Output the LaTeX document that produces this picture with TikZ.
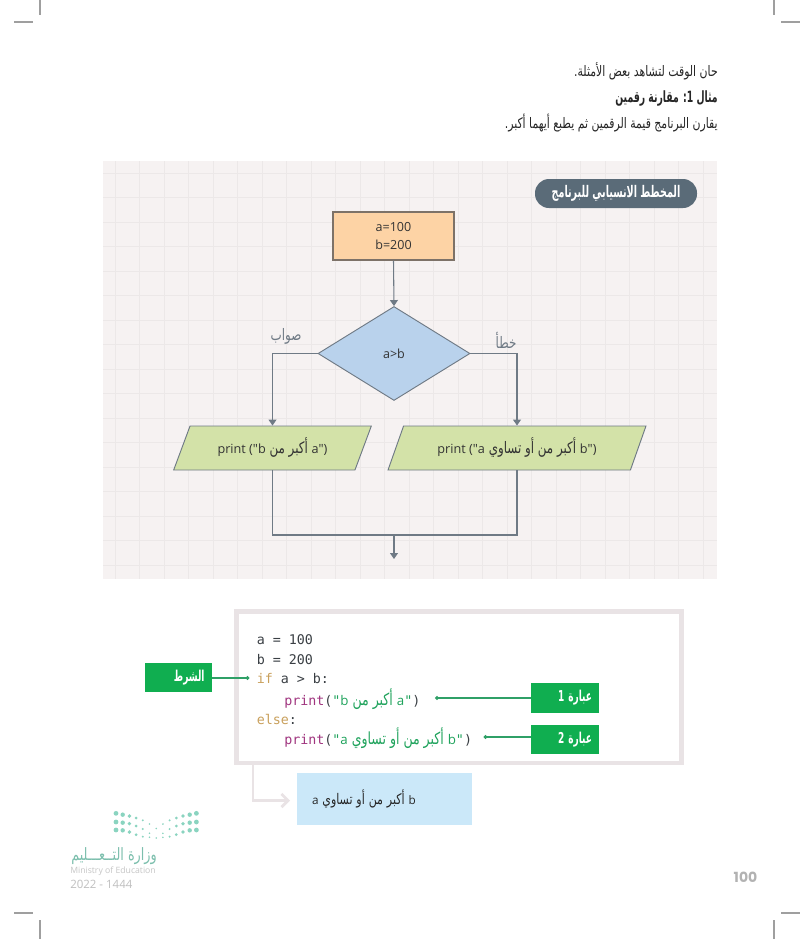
\documentclass[tikz,border=0pt]{standalone}
\usepackage{fontspec}
\setmainfont[Ligatures=TeXOff]{Open Sans}
\setmonofont{DejaVu Sans Mono}
\newfontfamily\arabicfont[Script=Arabic,Scale=1.25,FakeStretch=0.75]{DejaVu Sans}
\newfontfamily\arabicbold[Script=Arabic,Scale=1.25,FakeStretch=0.6]{DejaVu Sans}
\newfontfamily\pagefont{Poppins}
\TeXXeTstate=1
\usetikzlibrary{positioning}
\usetikzlibrary{shapes.geometric}
\usetikzlibrary{arrows.meta}
\def\px{0.75pt}
\newcommand{\arb}[1]{{\arabicfont\beginR #1\endR}}
\newcommand{\arbb}[1]{{\arabicbold\bfseries\beginR #1\endR}}
\newcommand{\ltn}[1]{{\normalfont #1}}
\newcommand{\fs}[2]{\fontsize{#1}{#2}\selectfont}
\definecolor{panelbg}{HTML}{F6F2F2}
\definecolor{panelgrid}{HTML}{ECE8E8}
\definecolor{flowline}{HTML}{6F7A85}
\definecolor{pillgray}{HTML}{5A6B78}
\definecolor{startedge}{HTML}{7D7268}
\definecolor{startfill}{HTML}{FDD3A5}
\definecolor{condfill}{HTML}{B9D2EC}
\definecolor{printfill}{HTML}{D3E2A8}
\definecolor{cardgray}{HTML}{E9E3E5}
\definecolor{tagfill}{HTML}{10AE50}
\definecolor{tagline}{HTML}{2FA067}
\definecolor{codekey}{HTML}{C9A05C}
\definecolor{codefun}{HTML}{A0357F}
\definecolor{codestr}{HTML}{1FA35C}
\definecolor{codetxt}{HTML}{3A3F44}
\definecolor{outfill}{HTML}{CBE8F9}
\definecolor{logoteal}{HTML}{8AD4C0}
\tikzset{
  flowarrow/.style={draw=flowline,line width=.8pt,-{Triangle[width=6pt,length=4.5pt]}},
  flowplain/.style={draw=flowline,line width=.8pt},
  printbox/.style={draw=flowline,fill=printfill,line width=.7pt,trapezium,trapezium left angle=61,trapezium right angle=119,trapezium stretches=true,minimum height=44*\px,inner sep=0pt,text=black!80,font=\fs{9.5}{12}},
  bodyline/.style={anchor=east,inner sep=0pt,text=black!85,font=\fs{8.7}{10}},
  codeline/.style={anchor=west,inner sep=0pt,text=codetxt,font=\ttfamily\fs{10}{12}},
  tagbox/.style={fill=tagfill,text=white,inner sep=0pt,align=right,font=\fs{9}{10}},
  tagwire/.style={draw=tagline,line width=.8pt,{Circle[length=3pt,width=3pt]}-},
  cropmark/.style={draw=gray!75,thick},
  logodot/.style={fill=logoteal,draw=none},
}
\begin{document}
\begin{tikzpicture}[x=0.75pt,y=-0.75pt]
\useasboundingbox (0,0) rectangle (800,939);
\fill[white] (0,0) rectangle (800,939);

\draw[cropmark] (40,0) -- (40,15);
\draw[cropmark] (14,22) -- (33,22);
\draw[cropmark] (774,0) -- (774,15);
\draw[cropmark] (781,22) -- (800,22);
\draw[cropmark] (14,913) -- (33,913);
\draw[cropmark] (40,920) -- (40,939);
\draw[cropmark] (781,913) -- (800,913);
\draw[cropmark] (774,920) -- (774,939);

\node[bodyline] (introA) at (718,71) {\arb{حان الوقت لتشاهد بعض الأمثلة.}};
\node[bodyline,font=\fs{9.3}{10}] (introB) at (718,99) {\arbb{مثال 1: مقارنة رقمين}};
\node[bodyline] (introC) at (718,123) {\arb{يقارن البرنامج قيمة الرقمين ثم يطبع أيهما أكبر.}};

\fill[panelbg] (103,161) rectangle (717,579);
\foreach \gx in {115.3,139.8,...,710} {
  \draw[panelgrid,line width=.6pt] (\gx,161) -- (\gx,579);
}
\foreach \gy in {173.3,197.8,...,575} {
  \draw[panelgrid,line width=.6pt] (103,\gy) -- (717,\gy);
}

\node[fill=pillgray,text=white,rounded corners=14*\px,minimum width=162*\px,minimum height=29*\px,inner sep=0pt,font=\fs{9.6}{10}] (pill) at (616,193.5) {\arbb{المخطط الانسيابي للبرنامج}};

\node[draw=startedge,fill=startfill,line width=.8pt,minimum width=121*\px,minimum height=48*\px,inner sep=0pt,align=center,text=black!80,font=\fs{9.4}{14}] (start) at (393.5,236) {a=100\\b=200};
\node[diamond,aspect=1.62,draw=flowline,fill=condfill,line width=.7pt,minimum width=152*\px,minimum height=94*\px,inner sep=0pt,text=black!80,font=\fs{9.4}{12}] (cond) at (394,353.5) {a>b};
\node[printbox,minimum width=198*\px] (printL) at (272.5,448) {print ("\arb{\ltn{a} أكبر من \ltn{b}}")};
\node[printbox,minimum width=258*\px] (printR) at (517,448) {print ("\arb{\ltn{b} أكبر من أو تساوي \ltn{a}}")};
\node[inner sep=0pt,text=flowline,font=\fs{9.5}{11}] (yes) at (286,336) {\arb{صواب}};
\node[inner sep=0pt,text=flowline,font=\fs{9.5}{11}] (no) at (506,340) {\arb{خطأ}};
\coordinate (merge) at (394,535);
\coordinate (flowend) at (394,559);

\draw[flowarrow] (start.south) -- (cond.north);
\draw[flowarrow] (cond.west) -| (printL.north);
\draw[flowarrow] (cond.east) -| (printR.north);
\draw[flowplain] (printL.south) |- (merge);
\draw[flowplain] (printR.south) |- (merge);
\draw[flowarrow] (merge) -- (flowend);

\draw[cardgray,line width=3.4pt,fill=white] (236.5,611.5) rectangle (681.5,763);
\node[codeline] (lineA) at (256.5,640) {a = 100};
\node[codeline] (lineB) at (256.5,660) {b = 200};
\node[codeline] (lineC) at (256.5,679) {\textcolor{codekey}{if} a > b:};
\node[codeline] (lineD) at (284,699) {\textcolor{codefun}{print}(\textcolor{codestr}{"\arb{\ltn{a} أكبر من \ltn{b}}"})};
\node[codeline] (lineE) at (256.5,719) {\textcolor{codekey}{else}:};
\node[codeline] (lineF) at (284,738) {\textcolor{codefun}{print}(\textcolor{codestr}{"\arb{\ltn{b} أكبر من أو تساوي \ltn{a}}"})};

\node[tagbox,minimum width=67*\px,minimum height=29*\px,text width=52*\px] (tagCond) at (178.5,677.5) {\arbb{الشرط}};
\node[tagbox,minimum width=68*\px,minimum height=30*\px,text width=54*\px] (tagOne) at (565,698) {\arbb{عبارة 1}};
\node[tagbox,minimum width=68*\px,minimum height=29*\px,text width=54*\px] (tagTwo) at (565,739.5) {\arbb{عبارة 2}};
\coordinate (dotCond) at (249.5,678);
\coordinate (dotOne) at (435,698);
\coordinate (dotTwo) at (483.5,737);
\draw[tagwire] (dotCond) -- (dotCond -| tagCond.east);
\draw[tagwire] (dotOne) -- (dotOne -| tagOne.west);
\draw[tagwire] (dotTwo) -- (dotTwo -| tagTwo.west);

\node[fill=outfill,minimum width=175*\px,minimum height=52*\px,inner sep=0pt,text width=144*\px,align=left,text=black!85,font=\fs{8.8}{10}] (result) at (384,799) {\arb{\ltn{b} أكبر من أو تساوي \ltn{a}}};
\coordinate (outTop) at (253,765);
\coordinate (outEnd) at (290,800.5);
\draw[cardgray,line width=2pt,-{Straight Barb[length=5pt,width=10pt]}] (outTop) |- (outEnd);

\foreach \col/\ya/\yb/\yc/\rd in {0/25/51/75/2.4,1/29/53/76/2.2,2/33/56/81/1.9,3/39/63/89/1.5,4/46/72/95/1.1,5/57/85/97/.9} {
  \fill[logodot] ({116+\col*6.7},{805+\ya/3}) circle (\rd);
  \fill[logodot] ({116+\col*6.7},{805+\yb/3}) circle (\rd);
  \fill[logodot] ({116+\col*6.7},{805+\yc/3}) circle (\rd);
  \fill[logodot] ({196.4-\col*6.7},{805+\ya/3}) circle (\rd);
  \fill[logodot] ({196.4-\col*6.7},{805+\yb/3}) circle (\rd);
  \fill[logodot] ({196.4-\col*6.7},{805+\yc/3}) circle (\rd);
}
\fill[logodot] (156.2,828.5) circle (.9);
\fill[logodot] (156.2,838) circle (.9);

\node[anchor=east,inner sep=0pt,text=logoteal!90!black,font=\fs{10.2}{12}] (logoName) at (157,856) {\arb{وزارة التــعـــليم}};
\node[anchor=west,inner sep=0pt,text=gray!45,font=\fs{6.5}{8}] (logoEn) at (70,871.5) {Ministry of Education};
\node[anchor=west,inner sep=0pt,text=gray!50,font=\fs{8.6}{9}] (logoYear) at (70,884.5) {2022 - 1444};
\node[inner sep=0pt,text=gray!60,font=\pagefont\fs{10.5}{12}\bfseries] (pageNo) at (745.5,877) {100};
\end{tikzpicture}
\end{document}
